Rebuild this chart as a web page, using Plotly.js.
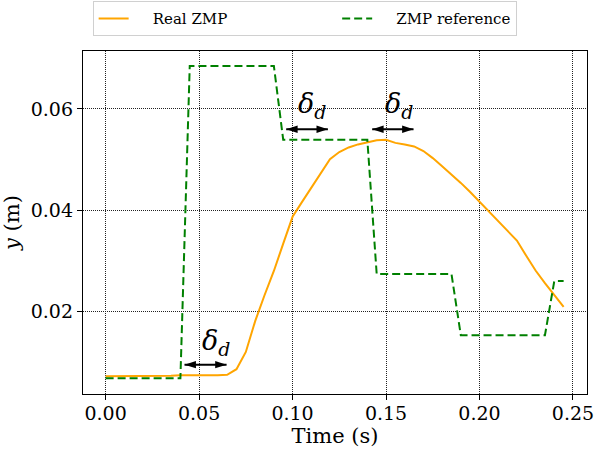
<!DOCTYPE html>
<html>
<head>
<meta charset="utf-8">
<script src="https://cdn.plot.ly/plotly-3.0.1.min.js"></script>
<style>
  html, body { margin: 0; padding: 0; background: #fff; }
  #chart { width: 595px; height: 454px; }
</style>
</head>
<body>
<div id="chart"></div>
<script>
// Sample times (s)
const time = [
  0.000, 0.005, 0.010, 0.015, 0.020, 0.025, 0.030, 0.035, 0.040, 0.045,
  0.050, 0.055, 0.060, 0.065, 0.070, 0.075, 0.080, 0.085, 0.090, 0.095,
  0.100, 0.105, 0.110, 0.115, 0.120, 0.125, 0.130, 0.135, 0.140, 0.145,
  0.150, 0.155, 0.160, 0.165, 0.170, 0.175, 0.180, 0.185, 0.190, 0.195,
  0.200, 0.205, 0.210, 0.215, 0.220, 0.225, 0.230, 0.235, 0.240, 0.245
];

// Measured ZMP, lateral component (m)
const realZmp = [
  0.0072, 0.0072, 0.0072, 0.0073, 0.0073, 0.0073, 0.0073, 0.0073, 0.0074, 0.0074,
  0.0074, 0.0073, 0.0074, 0.0075, 0.0086, 0.0120, 0.0181, 0.0232, 0.0280, 0.0334,
  0.0387, 0.0416, 0.0445, 0.0473, 0.0501, 0.0515, 0.0524, 0.0530, 0.0534, 0.0538,
  0.0539, 0.0533, 0.0530, 0.0526, 0.0517, 0.0503, 0.0487, 0.0471, 0.0454, 0.0436,
  0.0417, 0.0397, 0.0377, 0.0360, 0.0340, 0.0310, 0.0281, 0.0256, 0.0233, 0.0209
];

// Planned ZMP reference (m)
const refZmp = [
  0.0068, 0.0068, 0.0068, 0.0068, 0.0068, 0.0068, 0.0068, 0.0068, 0.0068, 0.0685,
  0.0685, 0.0685, 0.0685, 0.0685, 0.0685, 0.0685, 0.0685, 0.0685, 0.0685, 0.0539,
  0.0539, 0.0539, 0.0539, 0.0539, 0.0539, 0.0539, 0.0539, 0.0539, 0.0539, 0.0274,
  0.0274, 0.0274, 0.0274, 0.0274, 0.0274, 0.0274, 0.0274, 0.0274, 0.0153, 0.0153,
  0.0153, 0.0153, 0.0153, 0.0153, 0.0153, 0.0153, 0.0153, 0.0153, 0.0260, 0.0260
];

// Delay markers: arrow span in time and its height
const delayStart = [0.0422, 0.0966, 0.1426];
const delayEnd   = [0.0647, 0.1189, 0.1647];
const delayLevel = [0.0095, 0.0560, 0.0560];
// Label placement for each delay marker
const labelTime  = [0.0588, 0.1102, 0.1570];
const labelLevel = [0.0138, 0.0606, 0.0606];

const xTicks = [0.00, 0.05, 0.10, 0.15, 0.20, 0.25];
const yTicks = [0.02, 0.04, 0.06];

const FONT = "DejaVu Serif";
const NB = "\u00a0";

const traces = [
  {
    x: time, y: realZmp, type: "scatter", mode: "lines",
    // non-breaking spaces keep the two legend entries well apart
    name: NB.repeat(4) + "Real ZMP" + NB.repeat(22),
    line: { color: "#FFA500", width: 2 }
  },
  {
    x: time, y: refZmp, type: "scatter", mode: "lines",
    name: NB.repeat(4) + "ZMP reference",
    line: { color: "#008000", width: 2, dash: "8px,4px" }
  }
];

// Double-headed delay arrows: a short line per marker with a head at each end
delayStart.forEach((s, i) => {
  traces.push({
    x: [s, delayEnd[i]], y: [delayLevel[i], delayLevel[i]],
    type: "scatter", mode: "lines+markers", showlegend: false, hoverinfo: "skip",
    line: { color: "#000", width: 2 },
    marker: { symbol: "arrow", angle: [-90, 90], size: 12, color: "#000",
              line: { width: 0 } }
  });
});

const annotations = labelTime.map((t, i) => ({
  x: t, y: labelLevel[i], xref: "x", yref: "y",
  text: "<i>\u03b4</i><sub><i>d</i></sub>", showarrow: false,
  font: { family: FONT, size: 27, color: "#000" },
  xanchor: "center", yanchor: "middle"
}));

function axisStyle() {
  return {
    showline: true, linecolor: "#000", linewidth: 1.2, mirror: true,
    ticks: "outside", ticklen: 5, tickwidth: 1, tickcolor: "#000",
    showgrid: true, gridcolor: "#222", gridwidth: 1, griddash: "1px,1px",
    zeroline: false, tickformat: ".2f", ticklabeloverflow: "allow",
    tickfont: { family: FONT, size: 19, color: "#000" }
  };
}

const layout = {
  width: 595, height: 454,
  margin: { l: 83, r: 8, t: 51, b: 60 },
  paper_bgcolor: "#fff", plot_bgcolor: "#fff",
  font: { family: FONT, color: "#000" },
  showlegend: true,
  legend: {
    orientation: "h",
    xref: "container", x: 0.512, xanchor: "center",
    yref: "container", y: 0.997, yanchor: "top",
    bgcolor: "#fff", bordercolor: "#d0d0d0", borderwidth: 1,
    font: { family: FONT, size: 15, color: "#000" }
  },
  xaxis: Object.assign(axisStyle(), {
    range: [-0.0121, 0.2575], tickvals: xTicks, ticklabelstandoff: -3,
    title: { text: "Time (s)", font: { family: FONT, size: 21, color: "#000" }, standoff: 2 }
  }),
  yaxis: Object.assign(axisStyle(), {
    range: [0.0037, 0.07145], tickvals: yTicks,
    title: { text: "<i>y</i> (m)", font: { family: FONT, size: 21, color: "#000" }, standoff: 6 }
  }),
  annotations: annotations
};

Plotly.newPlot("chart", traces, layout, { displayModeBar: false, staticPlot: true });
</script>
</body>
</html>
